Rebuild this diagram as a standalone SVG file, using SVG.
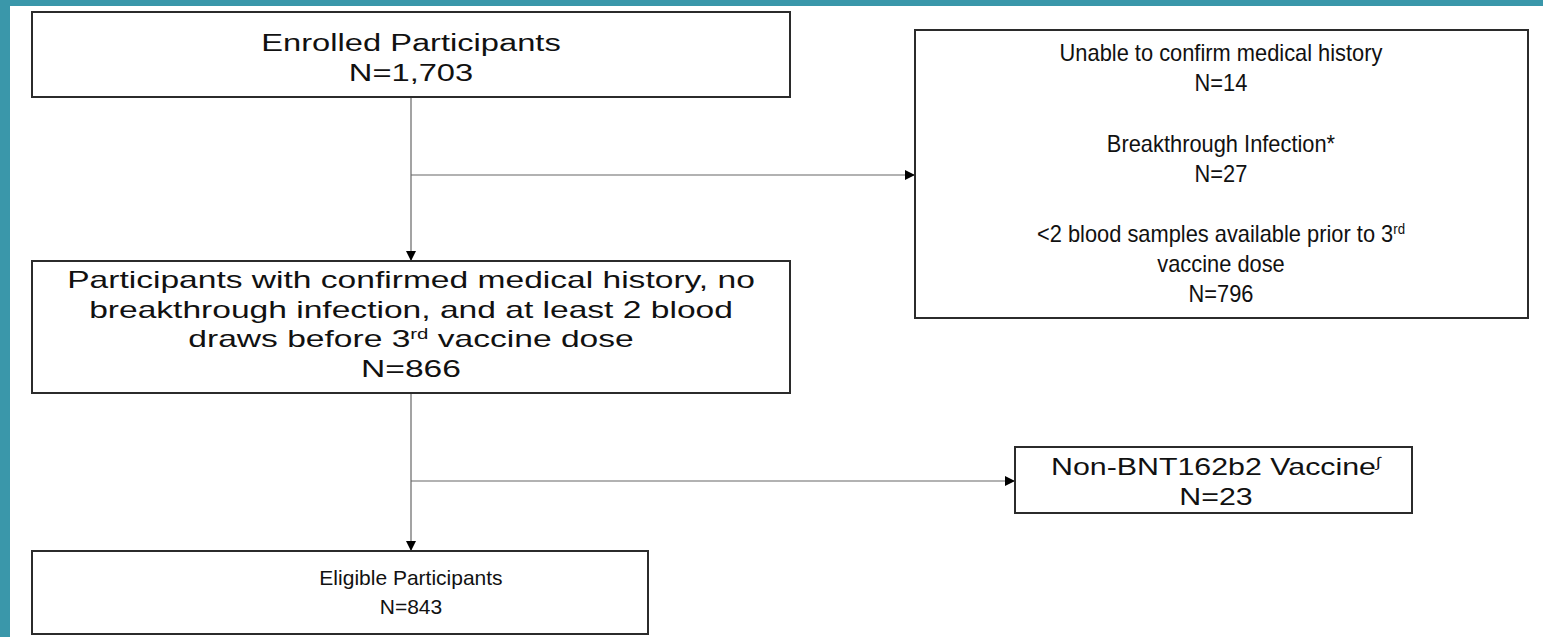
<svg xmlns="http://www.w3.org/2000/svg" width="1543" height="637" viewBox="0 0 1543 637">
<style>
.box{fill:#ffffff;stroke:#2b2b2b;stroke-width:2}
.t{font-family:"Liberation Sans",Arial,sans-serif;font-size:23px;fill:#111;text-anchor:middle}
.s{font-size:21px}
.sup{font-size:14px}
.con{stroke:#666;stroke-width:1.2;fill:none}
</style>
<defs>
<marker id="ah" viewBox="0 0 10 10" refX="10" refY="5" markerWidth="10" markerHeight="10" markerUnits="userSpaceOnUse" orient="auto">
<path d="M0,0 L10,5 L0,10 z" fill="#000"/>
</marker>
</defs>
<rect x="0" y="0" width="1543" height="637" fill="#ffffff"/>
<rect x="0" y="0" width="1543" height="6" fill="#3a97aa"/>
<rect x="0" y="0" width="10" height="637" fill="#3a97aa"/>

<g id="connectors">
<line class="con" x1="411" y1="97" x2="411" y2="261" marker-end="url(#ah)"/>
<line class="con" x1="411" y1="175" x2="915" y2="175" marker-end="url(#ah)"/>
<line class="con" x1="411" y1="393" x2="411" y2="551" marker-end="url(#ah)"/>
<line class="con" x1="411" y1="481" x2="1015" y2="481" marker-end="url(#ah)"/>
</g>

<g id="enrolled">
<rect class="box" x="32" y="12" width="758" height="85"/>
<g transform="translate(411 0) scale(1.42 1)">
<text class="t" x="0" y="51">Enrolled Participants</text>
<text class="t" x="0" y="81">N=1,703</text>
</g>
</g>

<g id="excluded1">
<rect class="box" x="915" y="30" width="613" height="288"/>
<g transform="translate(1221 0) scale(0.95 1)">
<text class="t" x="0" y="61">Unable to confirm medical history</text>
<text class="t" x="0" y="91">N=14</text>
<text class="t" x="0" y="152">Breakthrough Infection*</text>
<text class="t" x="0" y="182">N=27</text>
<text class="t" x="0" y="242">&lt;2 blood samples available prior to 3<tspan class="sup" dy="-8">rd</tspan></text>
<text class="t" x="0" y="272">vaccine dose</text>
<text class="t" x="0" y="302">N=796</text>
</g>
</g>

<g id="confirmed">
<rect class="box" x="32" y="261" width="758" height="132"/>
<g transform="translate(411 0) scale(1.46 1)">
<text class="t" x="0" y="288">Participants with confirmed medical history, no</text>
<text class="t" x="0" y="318">breakthrough infection, and at least 2 blood</text>
<text class="t" x="0" y="347">draws before 3<tspan class="sup" dy="-8">rd</tspan><tspan dy="8"> vaccine dose</tspan></text>
<text class="t" x="0" y="377">N=866</text>
</g>
</g>

<g id="nonbnt">
<rect class="box" x="1015" y="447" width="397" height="66"/>
<g transform="translate(1216 0) scale(1.32 1)">
<text class="t" x="0" y="475">Non-BNT162b2 Vaccine<tspan class="sup" dy="-8">∫</tspan></text>
<text class="t" x="0" y="505">N=23</text>
</g>
</g>

<g id="eligible">
<rect class="box" x="32" y="551" width="616" height="83"/>
<text class="t s" x="411" y="585">Eligible Participants</text>
<text class="t s" x="411" y="614">N=843</text>
</g>
</svg>
